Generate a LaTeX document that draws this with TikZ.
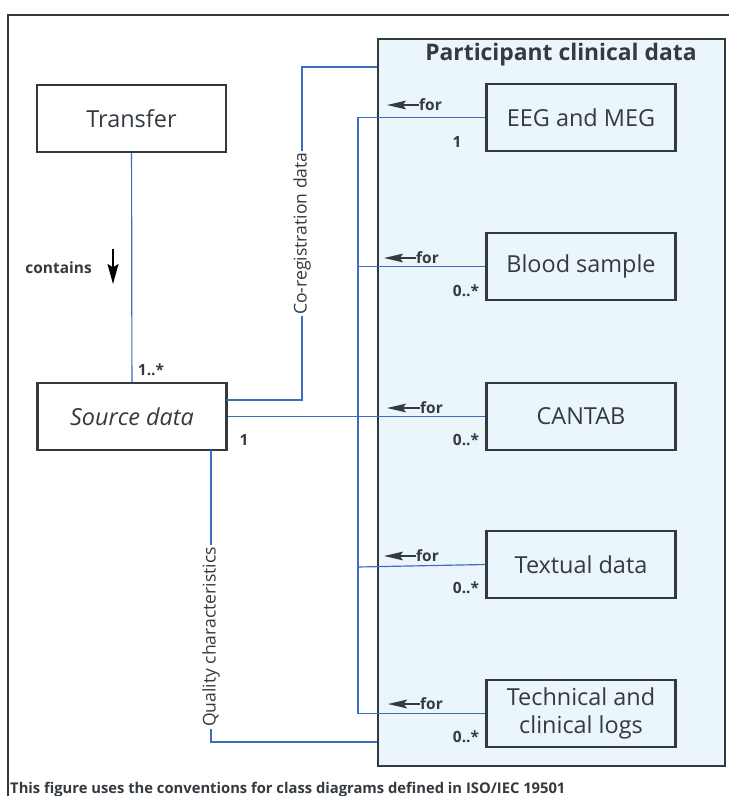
\documentclass[tikz,border=0pt]{standalone}
\usepackage{fontspec}
\setmainfont{Open Sans}
\usetikzlibrary{positioning,arrows.meta}
\definecolor{boxline}{HTML}{34393D}
\definecolor{linkblue}{HTML}{3D6CC0}
\definecolor{panelfill}{HTML}{EBF5FC}
\definecolor{textgrey}{HTML}{333A40}
\tikzset{
  frame/.style={draw=boxline, line width=0.8mm},
  panel/.style={draw=boxline, line width=0.8mm, fill=panelfill, minimum width=104.1mm, minimum height=218.1mm},
  paneltitle/.style={text=textgrey, font=\fontsize{19.5}{23}\selectfont\bfseries},
  classbox/.style={draw=boxline, line width=0.7mm, minimum width=56.7mm, minimum height=20.1mm, align=center, text=textgrey, font=\fontsize{20}{24}\selectfont},
  assoc/.style={draw=linkblue, line width=0.35mm},
  rolename/.style={fill=white, rotate=90, inner sep=1.5pt, text=textgrey, font=\fontsize{15}{18}\selectfont},
  mult/.style={text=textgrey, font=\fontsize{13.2}{15}\selectfont\bfseries, inner sep=0pt},
  forarrow/.style={draw=textgrey, line width=0.5mm, -{Stealth[length=5.7mm,width=2.6mm,inset=1mm]}},
}
\begin{document}
\begin{tikzpicture}[x=0.3mm,y=-0.3mm]
  \useasboundingbox (0,0) rectangle (729,796);
  \clip (0,0) rectangle (729,796);
  \draw[frame, fill=white] (8,15) rectangle (760,830);

  % container and the classes
  \node[panel] (pcd) at (551.5,402.5) {};
  \node[paneltitle] (pcdtitle) at (561,55) {Participant clinical data};
  \node[classbox, fill=white] (transfer) at (131.5,118.5) {Transfer};
  \node[classbox, fill=white, font=\fontsize{20}{24}\selectfont\itshape] (source) at (132,416.5) {Source data};
  \node[classbox] (eeg) at (581,117.5) {EEG and MEG};
  \node[classbox] (blood) at (581,266.5) {Blood sample};
  \node[classbox] (cantab) at (581,416.5) {CANTAB};
  \node[classbox] (textual) at (581,564.5) {Textual data};
  \node[classbox] (techlog) at (581,713.5) {Technical and\\clinical logs};

  % Transfer contains Source data
  \draw[assoc] (transfer) -- (source);
  \node[mult, anchor=east] (contains) at (92,268) {contains};
  \coordinate (containsTop) at (113,249);
  \coordinate (containsEnd) at (113,284);
  \draw[draw=black, line width=0.5mm, -{Stealth[length=6mm,width=3.3mm,inset=1mm]}] (containsTop) -- (containsEnd);
  \node[mult] (m1) at (151,370) {1..*};

  % co-registration data
  \coordinate (coregA) at (227,400);
  \coordinate (coregB) at (302,400);
  \coordinate (coregC) at (302,67);
  \draw[assoc] (coregA) -- (coregB) -- node[rolename] {Co-registration data} (coregC) -- (coregC -| pcd.west);

  % quality characteristics
  \coordinate (qualA) at (211,450);
  \coordinate (qualB) at (211,742);
  \draw[assoc] (qualA) -- node[rolename, pos=0.64] {Quality characteristics} (qualB) -- (qualB -| pcd.west);

  % the for bus
  \coordinate (busTop) at (358,117.5);
  \coordinate (busBot) at (358,713.5);
  \draw[assoc] (eeg.west) -- (busTop) -- (busBot) -- (techlog.west);
  \draw[assoc] (blood.west) -- (blood.west -| busTop);
  \draw[assoc] (textual.west) -- (358,567);
  \draw[assoc] (source.east) -- (cantab.west);
  \node[mult] (m2) at (244,440) {1};

  \node[mult, anchor=west] (for1) at (419,105) {for};
  \draw[forarrow] (for1.west) -- ++(-32,0);
  \node[mult, anchor=west] (for2) at (416,258) {for};
  \draw[forarrow] (for2.west) -- ++(-32,0);
  \node[mult, anchor=west] (for3) at (420,408) {for};
  \draw[forarrow] (for3.west) -- ++(-33,0);
  \node[mult, anchor=west] (for4) at (416,556) {for};
  \draw[forarrow] (for4.west) -- ++(-32,0);
  \node[mult, anchor=west] (for5) at (420,704) {for};
  \draw[forarrow] (for5.west) -- ++(-32,0);

  \node[mult] (m3) at (457,142) {1};
  \node[mult] (m4) at (466,291) {0..*};
  \node[mult] (m5) at (466,440) {0..*};
  \node[mult] (m6) at (466,588) {0..*};
  \node[mult] (m7) at (466,737) {0..*};

  \node[mult, anchor=base west, font=\fontsize{12.6}{15}\selectfont\bfseries] (caption) at (10,793) {This figure uses the conventions for class diagrams defined in ISO/IEC 19501};
\end{tikzpicture}
\end{document}
